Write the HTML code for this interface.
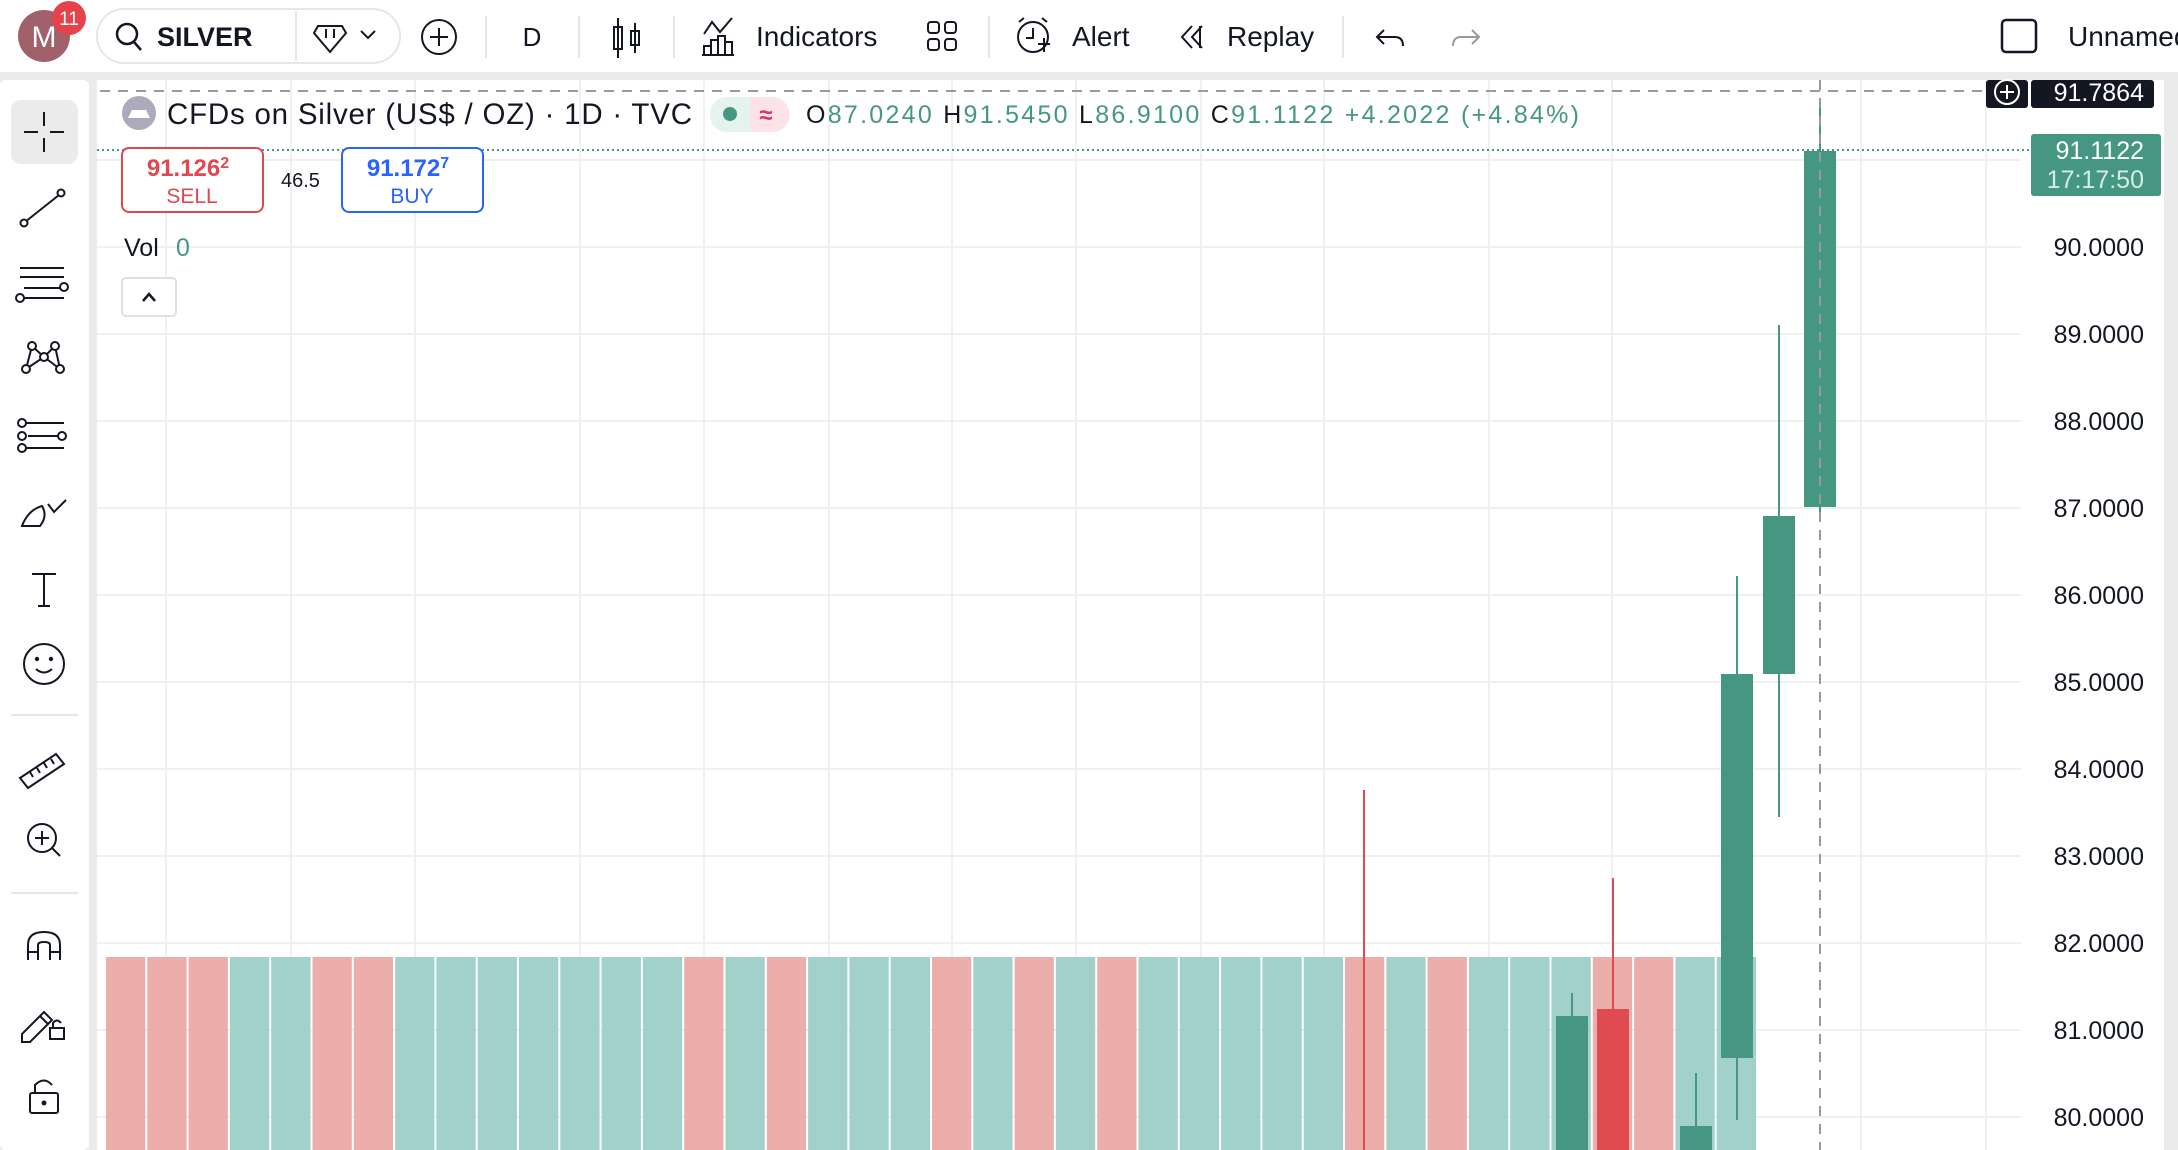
<!DOCTYPE html>
<html><head><meta charset="utf-8"><style>
html,body{margin:0;padding:0;background:#ebebeb;}
svg{display:block;font-family:"Liberation Sans",sans-serif;}
</style></head><body>
<svg width="2178" height="1150" viewBox="0 0 2178 1150" xmlns="http://www.w3.org/2000/svg">
<rect x="0" y="0" width="2178" height="1150" fill="#ebebeb"/>
<!-- top toolbar -->
<rect x="0" y="0" width="2178" height="72" fill="#fff"/>
<circle cx="44" cy="36" r="26" fill="#a0616a"/>
<text x="44" y="47" font-size="30" fill="#fff" text-anchor="middle">M</text>
<circle cx="69" cy="18" r="17" fill="#e5424a"/>
<text x="69" y="25" font-size="19" fill="#fff" text-anchor="middle">11</text>
<rect x="97" y="9" width="303" height="54" rx="27" fill="#fff" stroke="#e6e6e6" stroke-width="2"/>
<line x1="296" y1="11" x2="296" y2="61" stroke="#e6e6e6" stroke-width="2"/>
<circle cx="127" cy="34" r="10" fill="none" stroke="#131722" stroke-width="2.5"/>
<line x1="134" y1="42" x2="141" y2="50" stroke="#131722" stroke-width="2.5"/>
<text x="157" y="46" font-size="27" font-weight="bold" fill="#131722">SILVER</text>
<path d="M318 26 L342 26 L346 33 L330 52 L314 33 Z" fill="none" stroke="#131722" stroke-width="2"/>
<line x1="326" y1="29" x2="326" y2="38" stroke="#131722" stroke-width="2"/><line x1="334" y1="29" x2="334" y2="38" stroke="#131722" stroke-width="2"/>
<path d="M361 31 L368 38 L375 31" fill="none" stroke="#131722" stroke-width="2"/>
<circle cx="439" cy="37" r="17" fill="none" stroke="#131722" stroke-width="2"/>
<line x1="439" y1="28" x2="439" y2="46" stroke="#131722" stroke-width="2"/><line x1="430" y1="37" x2="448" y2="37" stroke="#131722" stroke-width="2"/>
<line x1="486" y1="16" x2="486" y2="58" stroke="#e6e6e6" stroke-width="2"/>
<text x="532" y="46" font-size="26" fill="#131722" text-anchor="middle">D</text>
<line x1="579" y1="16" x2="579" y2="58" stroke="#e6e6e6" stroke-width="2"/>
<rect x="614" y="27" width="8" height="22" fill="none" stroke="#131722" stroke-width="2"/><line x1="618" y1="18" x2="618" y2="58" stroke="#131722" stroke-width="2"/>
<rect x="631" y="31" width="8" height="14" fill="none" stroke="#131722" stroke-width="2"/><line x1="635" y1="23" x2="635" y2="53" stroke="#131722" stroke-width="2"/>
<line x1="674" y1="16" x2="674" y2="58" stroke="#e6e6e6" stroke-width="2"/>
<path d="M704 34 L712 22 L720 32 L732 18" fill="none" stroke="#131722" stroke-width="2"/>
<path d="M704 55 V46 H711 V55 M711 55 V40 H718 V55 M718 55 V36 H725 V55 M725 55 V42 H732 V55 M702 55 H734" fill="none" stroke="#131722" stroke-width="2"/>
<text x="756" y="46" font-size="28" fill="#131722">Indicators</text>
<rect x="928" y="22" width="11" height="11" rx="3" fill="none" stroke="#131722" stroke-width="2"/>
<rect x="945" y="22" width="11" height="11" rx="3" fill="none" stroke="#131722" stroke-width="2"/>
<rect x="928" y="39" width="11" height="11" rx="3" fill="none" stroke="#131722" stroke-width="2"/>
<rect x="945" y="39" width="11" height="11" rx="3" fill="none" stroke="#131722" stroke-width="2"/>
<line x1="989" y1="16" x2="989" y2="58" stroke="#e6e6e6" stroke-width="2"/>
<circle cx="1033" cy="37" r="15" fill="none" stroke="#131722" stroke-width="2"/>
<path d="M1033 28 V38 H1026 M1038 44 H1050 M1044 38 V52 M1019 22 L1024 18 M1047 22 L1042 18" fill="none" stroke="#131722" stroke-width="2"/>
<text x="1072" y="46" font-size="28" fill="#131722">Alert</text>
<path d="M1192 26 L1182 37 L1192 48 M1202 26 L1192 37 L1202 48 M1200 26 L1200 48" fill="none" stroke="#131722" stroke-width="2"/>
<text x="1227" y="46" font-size="28" fill="#131722">Replay</text>
<line x1="1343" y1="16" x2="1343" y2="58" stroke="#e6e6e6" stroke-width="2"/>
<path d="M1384 30 L1377 37 L1384 44 M1377 37 H1395 Q1403 37 1403 46" fill="none" stroke="#131722" stroke-width="2"/>
<path d="M1472 30 L1479 37 L1472 44 M1479 37 H1461 Q1453 37 1453 46" fill="none" stroke="#999" stroke-width="2"/>
<rect x="2002" y="20" width="34" height="32" rx="4" fill="none" stroke="#131722" stroke-width="2.5"/>
<text x="2068" y="46" font-size="28" fill="#131722">Unnamed</text>

<!-- left toolbar -->
<rect x="0" y="80" width="89" height="1070" rx="6" fill="#fff"/>
<rect x="11" y="100" width="67" height="64" rx="10" fill="#ebebeb"/>
<g stroke="#131722" stroke-width="2" fill="none">
<path d="M44 112 V126 M44 138 V152 M24 132 H38 M50 132 H64"/>
<line x1="25" y1="222" x2="59" y2="195"/><circle cx="24" cy="223" r="3.5" fill="#fff"/><circle cx="61" cy="193" r="3.5" fill="#fff"/>
<path d="M20 268 H64 M20 277 H64 M24 288 H64 M24 298 H64"/><circle cx="64" cy="287" r="4" fill="#fff"/><circle cx="20" cy="298" r="4" fill="#fff"/>
<path d="M26 369 L32 346 L44 357 L55 346 L60 369 M32 346 L44 357 L26 369 M44 357 L60 369"/><circle cx="26" cy="369" r="4" fill="#fff"/><circle cx="32" cy="346" r="4" fill="#fff"/><circle cx="44" cy="357" r="4" fill="#fff"/><circle cx="55" cy="346" r="4" fill="#fff"/><circle cx="60" cy="369" r="4" fill="#fff"/>
<path d="M24 423 H64 M28 436 H60 M24 448 H64" /><circle cx="22" cy="423" r="4" fill="#fff"/><circle cx="22" cy="436" r="4" fill="#fff"/><circle cx="22" cy="448" r="4" fill="#fff"/><circle cx="62" cy="436" r="4" fill="#fff"/>
<path d="M22 526 Q28 510 42 506 Q48 516 40 526 Z M48 504 L54 512 L66 500"/>
<path d="M32 574 H56 M44 574 V606 M38 606 H50"/>
<circle cx="44" cy="664" r="20"/><circle cx="37" cy="659" r="1.2" fill="#131722"/><circle cx="51" cy="659" r="1.2" fill="#131722"/><path d="M36 669 Q44 676 52 669"/>
<path d="M20 778 L56 754 L64 764 L28 788 Z M30 772 L33 777 M37 768 L40 773 M44 763 L47 768 M51 759 L54 764"/>
<circle cx="42" cy="838" r="14"/><path d="M42 831 V845 M35 838 H49 M52 848 L60 856"/>
<path d="M28 960 V945 Q28 932 44 932 Q60 932 60 945 V960 M28 952 H38 M50 952 H60 M38 960 V945 Q38 942 44 942 Q50 942 50 945 V960"/>
<path d="M22 1034 L44 1012 L52 1020 L30 1042 H22 Z M40 1016 L48 1024"/><rect x="50" y="1028" width="14" height="11"/><path d="M53 1028 V1023 Q57 1018 61 1023"/>
<rect x="30" y="1093" width="28" height="20" rx="2"/><path d="M35 1093 V1085 Q44 1076 52 1085"/><circle cx="44" cy="1103" r="1.5" fill="#131722"/>
</g>
<line x1="11" y1="715" x2="78" y2="715" stroke="#e6e6e6" stroke-width="2"/>
<line x1="11" y1="893" x2="78" y2="893" stroke="#e6e6e6" stroke-width="2"/>

<!-- chart panel -->
<rect x="97" y="80" width="2067" height="1070" fill="#fff"/>
<g stroke="#f0f0f0" stroke-width="2">
<line x1="166" y1="80" x2="166" y2="1150"/><line x1="291" y1="80" x2="291" y2="1150"/><line x1="415" y1="80" x2="415" y2="1150"/><line x1="580" y1="80" x2="580" y2="1150"/><line x1="704" y1="80" x2="704" y2="1150"/><line x1="829" y1="80" x2="829" y2="1150"/><line x1="952" y1="80" x2="952" y2="1150"/><line x1="1076" y1="80" x2="1076" y2="1150"/><line x1="1201" y1="80" x2="1201" y2="1150"/><line x1="1324" y1="80" x2="1324" y2="1150"/><line x1="1489" y1="80" x2="1489" y2="1150"/><line x1="1612" y1="80" x2="1612" y2="1150"/><line x1="1861" y1="80" x2="1861" y2="1150"/><line x1="1986" y1="80" x2="1986" y2="1150"/>
<line x1="97" y1="160" x2="2021" y2="160"/><line x1="97" y1="247" x2="2021" y2="247"/><line x1="97" y1="334" x2="2021" y2="334"/><line x1="97" y1="421" x2="2021" y2="421"/><line x1="97" y1="508" x2="2021" y2="508"/><line x1="97" y1="595" x2="2021" y2="595"/><line x1="97" y1="682" x2="2021" y2="682"/><line x1="97" y1="769" x2="2021" y2="769"/><line x1="97" y1="856" x2="2021" y2="856"/><line x1="97" y1="943" x2="2021" y2="943"/><line x1="97" y1="1030" x2="2021" y2="1030"/><line x1="97" y1="1117" x2="2021" y2="1117"/>
</g>
<!-- volume bars -->
<g>
<rect x="106.0" y="957" width="39.3" height="193" fill="#ebaeaa"/>
<rect x="147.3" y="957" width="39.3" height="193" fill="#ebaeaa"/>
<rect x="188.6" y="957" width="39.3" height="193" fill="#ebaeaa"/>
<rect x="229.9" y="957" width="39.3" height="193" fill="#a2d1cc"/>
<rect x="271.2" y="957" width="39.3" height="193" fill="#a2d1cc"/>
<rect x="312.5" y="957" width="39.3" height="193" fill="#ebaeaa"/>
<rect x="353.8" y="957" width="39.3" height="193" fill="#ebaeaa"/>
<rect x="395.1" y="957" width="39.3" height="193" fill="#a2d1cc"/>
<rect x="436.4" y="957" width="39.3" height="193" fill="#a2d1cc"/>
<rect x="477.7" y="957" width="39.3" height="193" fill="#a2d1cc"/>
<rect x="519.0" y="957" width="39.3" height="193" fill="#a2d1cc"/>
<rect x="560.3" y="957" width="39.3" height="193" fill="#a2d1cc"/>
<rect x="601.6" y="957" width="39.3" height="193" fill="#a2d1cc"/>
<rect x="642.9" y="957" width="39.3" height="193" fill="#a2d1cc"/>
<rect x="684.2" y="957" width="39.3" height="193" fill="#ebaeaa"/>
<rect x="725.5" y="957" width="39.3" height="193" fill="#a2d1cc"/>
<rect x="766.8" y="957" width="39.3" height="193" fill="#ebaeaa"/>
<rect x="808.1" y="957" width="39.3" height="193" fill="#a2d1cc"/>
<rect x="849.4" y="957" width="39.3" height="193" fill="#a2d1cc"/>
<rect x="890.7" y="957" width="39.3" height="193" fill="#a2d1cc"/>
<rect x="932.0" y="957" width="39.3" height="193" fill="#ebaeaa"/>
<rect x="973.3" y="957" width="39.3" height="193" fill="#a2d1cc"/>
<rect x="1014.6" y="957" width="39.3" height="193" fill="#ebaeaa"/>
<rect x="1055.9" y="957" width="39.3" height="193" fill="#a2d1cc"/>
<rect x="1097.2" y="957" width="39.3" height="193" fill="#ebaeaa"/>
<rect x="1138.5" y="957" width="39.3" height="193" fill="#a2d1cc"/>
<rect x="1179.8" y="957" width="39.3" height="193" fill="#a2d1cc"/>
<rect x="1221.1" y="957" width="39.3" height="193" fill="#a2d1cc"/>
<rect x="1262.4" y="957" width="39.3" height="193" fill="#a2d1cc"/>
<rect x="1303.7" y="957" width="39.3" height="193" fill="#a2d1cc"/>
<rect x="1345.0" y="957" width="39.3" height="193" fill="#ebaeaa"/>
<rect x="1386.3" y="957" width="39.3" height="193" fill="#a2d1cc"/>
<rect x="1427.6" y="957" width="39.3" height="193" fill="#ebaeaa"/>
<rect x="1468.9" y="957" width="39.3" height="193" fill="#a2d1cc"/>
<rect x="1510.2" y="957" width="39.3" height="193" fill="#a2d1cc"/>
<rect x="1551.5" y="957" width="39.3" height="193" fill="#a2d1cc"/>
<rect x="1592.8" y="957" width="39.3" height="193" fill="#ebaeaa"/>
<rect x="1634.1" y="957" width="39.3" height="193" fill="#ebaeaa"/>
<rect x="1675.4" y="957" width="39.3" height="193" fill="#a2d1cc"/>
<rect x="1716.7" y="957" width="39.3" height="193" fill="#a2d1cc"/>
</g>
<!-- candles -->
<line x1="1364" y1="790" x2="1364" y2="1150" stroke="#e04b52" stroke-width="2"/>
<line x1="1572" y1="993" x2="1572" y2="1016" stroke="#459782" stroke-width="2"/><rect x="1556" y="1016" width="32" height="134" fill="#459782"/>
<line x1="1613" y1="878" x2="1613" y2="1009" stroke="#e04b52" stroke-width="2"/><rect x="1597" y="1009" width="32" height="141" fill="#e04b52"/>
<line x1="1696" y1="1073" x2="1696" y2="1126" stroke="#459782" stroke-width="2"/><rect x="1680" y="1126" width="32" height="24" fill="#459782"/>
<line x1="1737" y1="576" x2="1737" y2="1120" stroke="#459782" stroke-width="2"/><rect x="1721" y="674" width="32" height="384" fill="#459782"/>
<line x1="1779" y1="325" x2="1779" y2="817" stroke="#459782" stroke-width="2"/><rect x="1763" y="516" width="32" height="158" fill="#459782"/>
<line x1="1820" y1="104" x2="1820" y2="515" stroke="#459782" stroke-width="2"/><rect x="1804" y="151" width="32" height="356" fill="#459782"/>
<!-- crosshair -->
<line x1="1820" y1="80" x2="1820" y2="1150" stroke="#9a9a9a" stroke-width="2" stroke-dasharray="10 8"/>
<line x1="100" y1="91" x2="1986" y2="91" stroke="#9a9a9a" stroke-width="2" stroke-dasharray="10 8"/>
<line x1="97" y1="150" x2="2030" y2="150" stroke="#459782" stroke-width="2" stroke-dasharray="2 3"/>
<!-- price axis -->
<g font-size="25" fill="#131722" text-anchor="end">
<text x="2144" y="256">90.0000</text><text x="2144" y="343">89.0000</text><text x="2144" y="430">88.0000</text><text x="2144" y="517">87.0000</text><text x="2144" y="604">86.0000</text><text x="2144" y="691">85.0000</text><text x="2144" y="778">84.0000</text><text x="2144" y="865">83.0000</text><text x="2144" y="952">82.0000</text><text x="2144" y="1039">81.0000</text><text x="2144" y="1126">80.0000</text>
</g>
<rect x="1986" y="80" width="42" height="28" rx="3" fill="#131722"/>
<circle cx="2007" cy="92" r="12" fill="none" stroke="#fff" stroke-width="2"/><path d="M2007 85 V99 M2000 92 H2014" stroke="#fff" stroke-width="2"/>
<rect x="2031" y="80" width="123" height="28" rx="3" fill="#131722"/>
<text x="2144" y="101" font-size="25" fill="#fff" text-anchor="end">91.7864</text>
<rect x="2031" y="134" width="130" height="62" rx="3" fill="#459782"/>
<text x="2144" y="159" font-size="25" fill="#fff" text-anchor="end">91.1122</text>
<text x="2144" y="188" font-size="25" fill="#d5ece6" text-anchor="end">17:17:50</text>
<rect x="2164" y="80" width="14" height="1070" fill="#ebebeb"/>
<!-- legend -->
<circle cx="139" cy="113" r="17" fill="#ababbb"/>
<path d="M128 118 H150 L146 110 H132 Z" fill="#fff"/>
<text x="167" y="124" font-size="29.5" fill="#131722" textLength="525">CFDs on Silver (US$ / OZ) · 1D · TVC</text>
<rect x="710" y="97" width="79" height="35" rx="17" fill="#e5f3ef"/>
<path d="M750 97 H772 A17 17 0 0 1 772 132 H750 Z" fill="#fbe3e8"/>
<circle cx="730" cy="114" r="7" fill="#459782"/>
<text x="766" y="123" font-size="24" font-weight="bold" fill="#e0306a" text-anchor="middle">≈</text>
<text x="806" y="123" font-size="25" fill="#459782" textLength="773"><tspan fill="#131722">O</tspan>87.0240 <tspan fill="#131722">H</tspan>91.5450 <tspan fill="#131722">L</tspan>86.9100 <tspan fill="#131722">C</tspan>91.1122 +4.2022 (+4.84%)</text>
<rect x="122" y="148" width="141" height="64" rx="7" fill="#fff" stroke="#e0474f" stroke-width="2"/>
<text x="188" y="176" font-size="24" font-weight="bold" fill="#e0474f" text-anchor="middle">91.126<tspan font-size="16" dy="-8">2</tspan></text>
<text x="192" y="203" font-size="21" fill="#e0474f" text-anchor="middle">SELL</text>
<text x="281" y="187" font-size="20" fill="#131722">46.5</text>
<rect x="342" y="148" width="141" height="64" rx="7" fill="#fff" stroke="#2962ff" stroke-width="2"/>
<text x="408" y="176" font-size="24" font-weight="bold" fill="#2962ff" text-anchor="middle">91.172<tspan font-size="16" dy="-8">7</tspan></text>
<text x="412" y="203" font-size="21" fill="#2962ff" text-anchor="middle">BUY</text>
<text x="124" y="256" font-size="25" fill="#131722">Vol</text>
<text x="176" y="256" font-size="25" fill="#459782">0</text>
<rect x="122" y="278" width="54" height="38" rx="4" fill="#fff" stroke="#e0e0e0" stroke-width="2"/>
<path d="M143 301 L149 294 L155 301" fill="none" stroke="#131722" stroke-width="2.5"/>
</svg>
</body></html>
